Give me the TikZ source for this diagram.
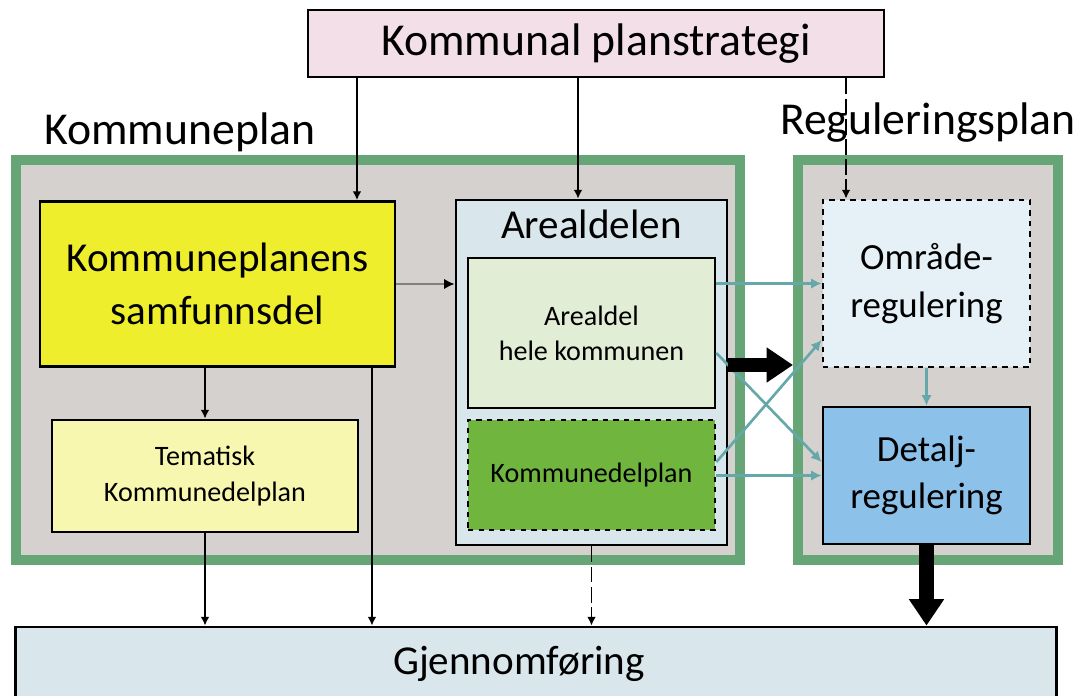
\documentclass[tikz,border=0pt]{standalone}
\usepackage{fontspec}
\setmainfont{Carlito}
\usepackage{tikz}
\usetikzlibrary{arrows.meta}
\definecolor{planpink}{HTML}{F2DFE7}
\definecolor{framegreen}{HTML}{66A676}
\definecolor{framegray}{HTML}{D5D1CE}
\definecolor{samfyellow}{HTML}{EEEE2C}
\definecolor{temayellow}{HTML}{F8F7B0}
\definecolor{arealblue}{HTML}{D9E7EC}
\definecolor{helegreen}{HTML}{E2EDD5}
\definecolor{kdpgreen}{HTML}{70B53D}
\definecolor{omrblue}{HTML}{E5F0F7}
\definecolor{detblue}{HTML}{8CC2EA}
\definecolor{tealcol}{HTML}{65A8AA}
\newcommand{\hugetxt}{\fontsize{26}{30}\selectfont}
\newcommand{\bigtxt}{\fontsize{23.4}{30}\selectfont}
\newcommand{\regtxt}{\fontsize{21}{27}\selectfont}
\newcommand{\smalltxt}{\fontsize{16}{20}\selectfont}

\begin{document}
\begin{tikzpicture}[x=0.02cm,y=-0.02cm,
	box/.style={draw=black,line width=1.6pt,align=center,inner sep=0pt},
	frame/.style={draw=framegreen,fill=framegray,line width=5.7pt,inner sep=0pt},
	arr/.style={line width=1.1pt,-{Latex[length=5pt,width=5pt]}},
	dasharr/.style={arr,dash pattern=on 9pt off 2.5pt},
	tealarr/.style={draw=tealcol,line width=1.5pt,-{Latex[length=6pt,width=6pt]}},
	bigarr/.style={line width=8.5pt,-{Triangle[length=15pt,width=19pt]}}]
	\useasboundingbox (0,0) rectangle (1083,696);
	
	% frames
	\node[frame,minimum width=14.48cm,minimum height=8cm] (kp) at (378,360) {};
	\node[frame,minimum width=5.2cm,minimum height=8cm] (rp) at (928,360) {};
	\node[anchor=base,font=\hugetxt] (kplabel) at (180,145) {Kommuneplan};
	\node[anchor=base,font=\hugetxt] (rplabel) at (928,135) {Reguleringsplan};
	
	% boxes
	\node[box,fill=planpink,minimum width=11.52cm,minimum height=1.34cm,font=\hugetxt] (plan) at (596,43.5) {Kommunal planstrategi};
	\node[box,fill=samfyellow,minimum width=7.1cm,minimum height=3.3cm,font=\bigtxt] (samf) at (217.5,284) {Kommuneplanens\\samfunnsdel};
	\node[box,fill=temayellow,minimum width=6.12cm,minimum height=2.24cm,font=\smalltxt] (tema) at (205,476) {Tematisk\\Kommunedelplan};
	\node[box,fill=arealblue,minimum width=5.42cm,minimum height=6.9cm,
		label={[anchor=north,font=\bigtxt,inner sep=6pt]north:Arealdelen}] (areal) at (591.5,372.5) {};
	\node[box,fill=helegreen,minimum width=4.94cm,minimum height=3cm,font=\smalltxt] (hele) at (591.5,333) {Arealdel\\hele kommunen};
	\node[box,fill=kdpgreen,dashed,minimum width=4.94cm,minimum height=2.2cm,font=\smalltxt] (kdp) at (591.5,475) {Kommunedelplan};
	\node[box,fill=omrblue,dashed,minimum width=4.14cm,minimum height=3.34cm,font=\regtxt] (omr) at (926.5,283.5) {Område-\\regulering};
	\node[box,fill=detblue,minimum width=4.14cm,minimum height=2.74cm,font=\regtxt] (det) at (926.5,475.5) {Detalj-\\regulering};
	\node[box,fill=arealblue,minimum width=20.84cm,minimum height=1.46cm,
		label={[xshift=-0.34cm,font=\bigtxt]center:Gjennomføring}] (gjen) at (536,663.5) {};
	
	% from planstrategi
	\draw[arr] ([xshift=2.79cm]samf.north |- plan.south) -- ([xshift=2.79cm]samf.north);
	\draw[arr] ([xshift=-0.27cm]areal.north |- plan.south) -- ([xshift=-0.27cm]areal.north);
	\draw[dasharr] ([xshift=-1.61cm]omr.north |- plan.south) -- ([xshift=-1.61cm]omr.north);
	
	% kommuneplan
	\draw[line width=1.6pt,draw=black!50,-{Latex[length=6pt,width=6pt,fill=black,color=black]}] (samf.east) -- (samf.east -| areal.west);
	\draw[arr] (tema.north |- samf.south) -- (tema.north);
	\draw[arr] (tema.south) -- (tema.south |- gjen.north);
	\draw[arr] ([xshift=3.09cm]samf.south) -- ([xshift=3.09cm]samf.south |- gjen.north);
	\draw[dasharr] (areal.south) -- (areal.south |- gjen.north);
	
	% arealdel to regulering
	\draw[tealarr] (omr.west -| hele.east) -- (omr.west);
	\draw[tealarr] ([yshift=-0.4cm]hele.east) -- ([yshift=0.27cm]det.west);
	\draw[tealarr] ([yshift=0.26cm]kdp.east) -- ([yshift=-1.13cm]omr.west);
	\draw[tealarr] (det.west -| kdp.east) -- (det.west);
	\draw[tealarr] (omr.south) -- (det.north);
	\draw[bigarr] ([yshift=0.15cm]areal.east) -- ([yshift=0.15cm]areal.east -| rp.west);
	\draw[bigarr] (det.south) -- (det.south |- gjen.north);
\end{tikzpicture}
\end{document}
